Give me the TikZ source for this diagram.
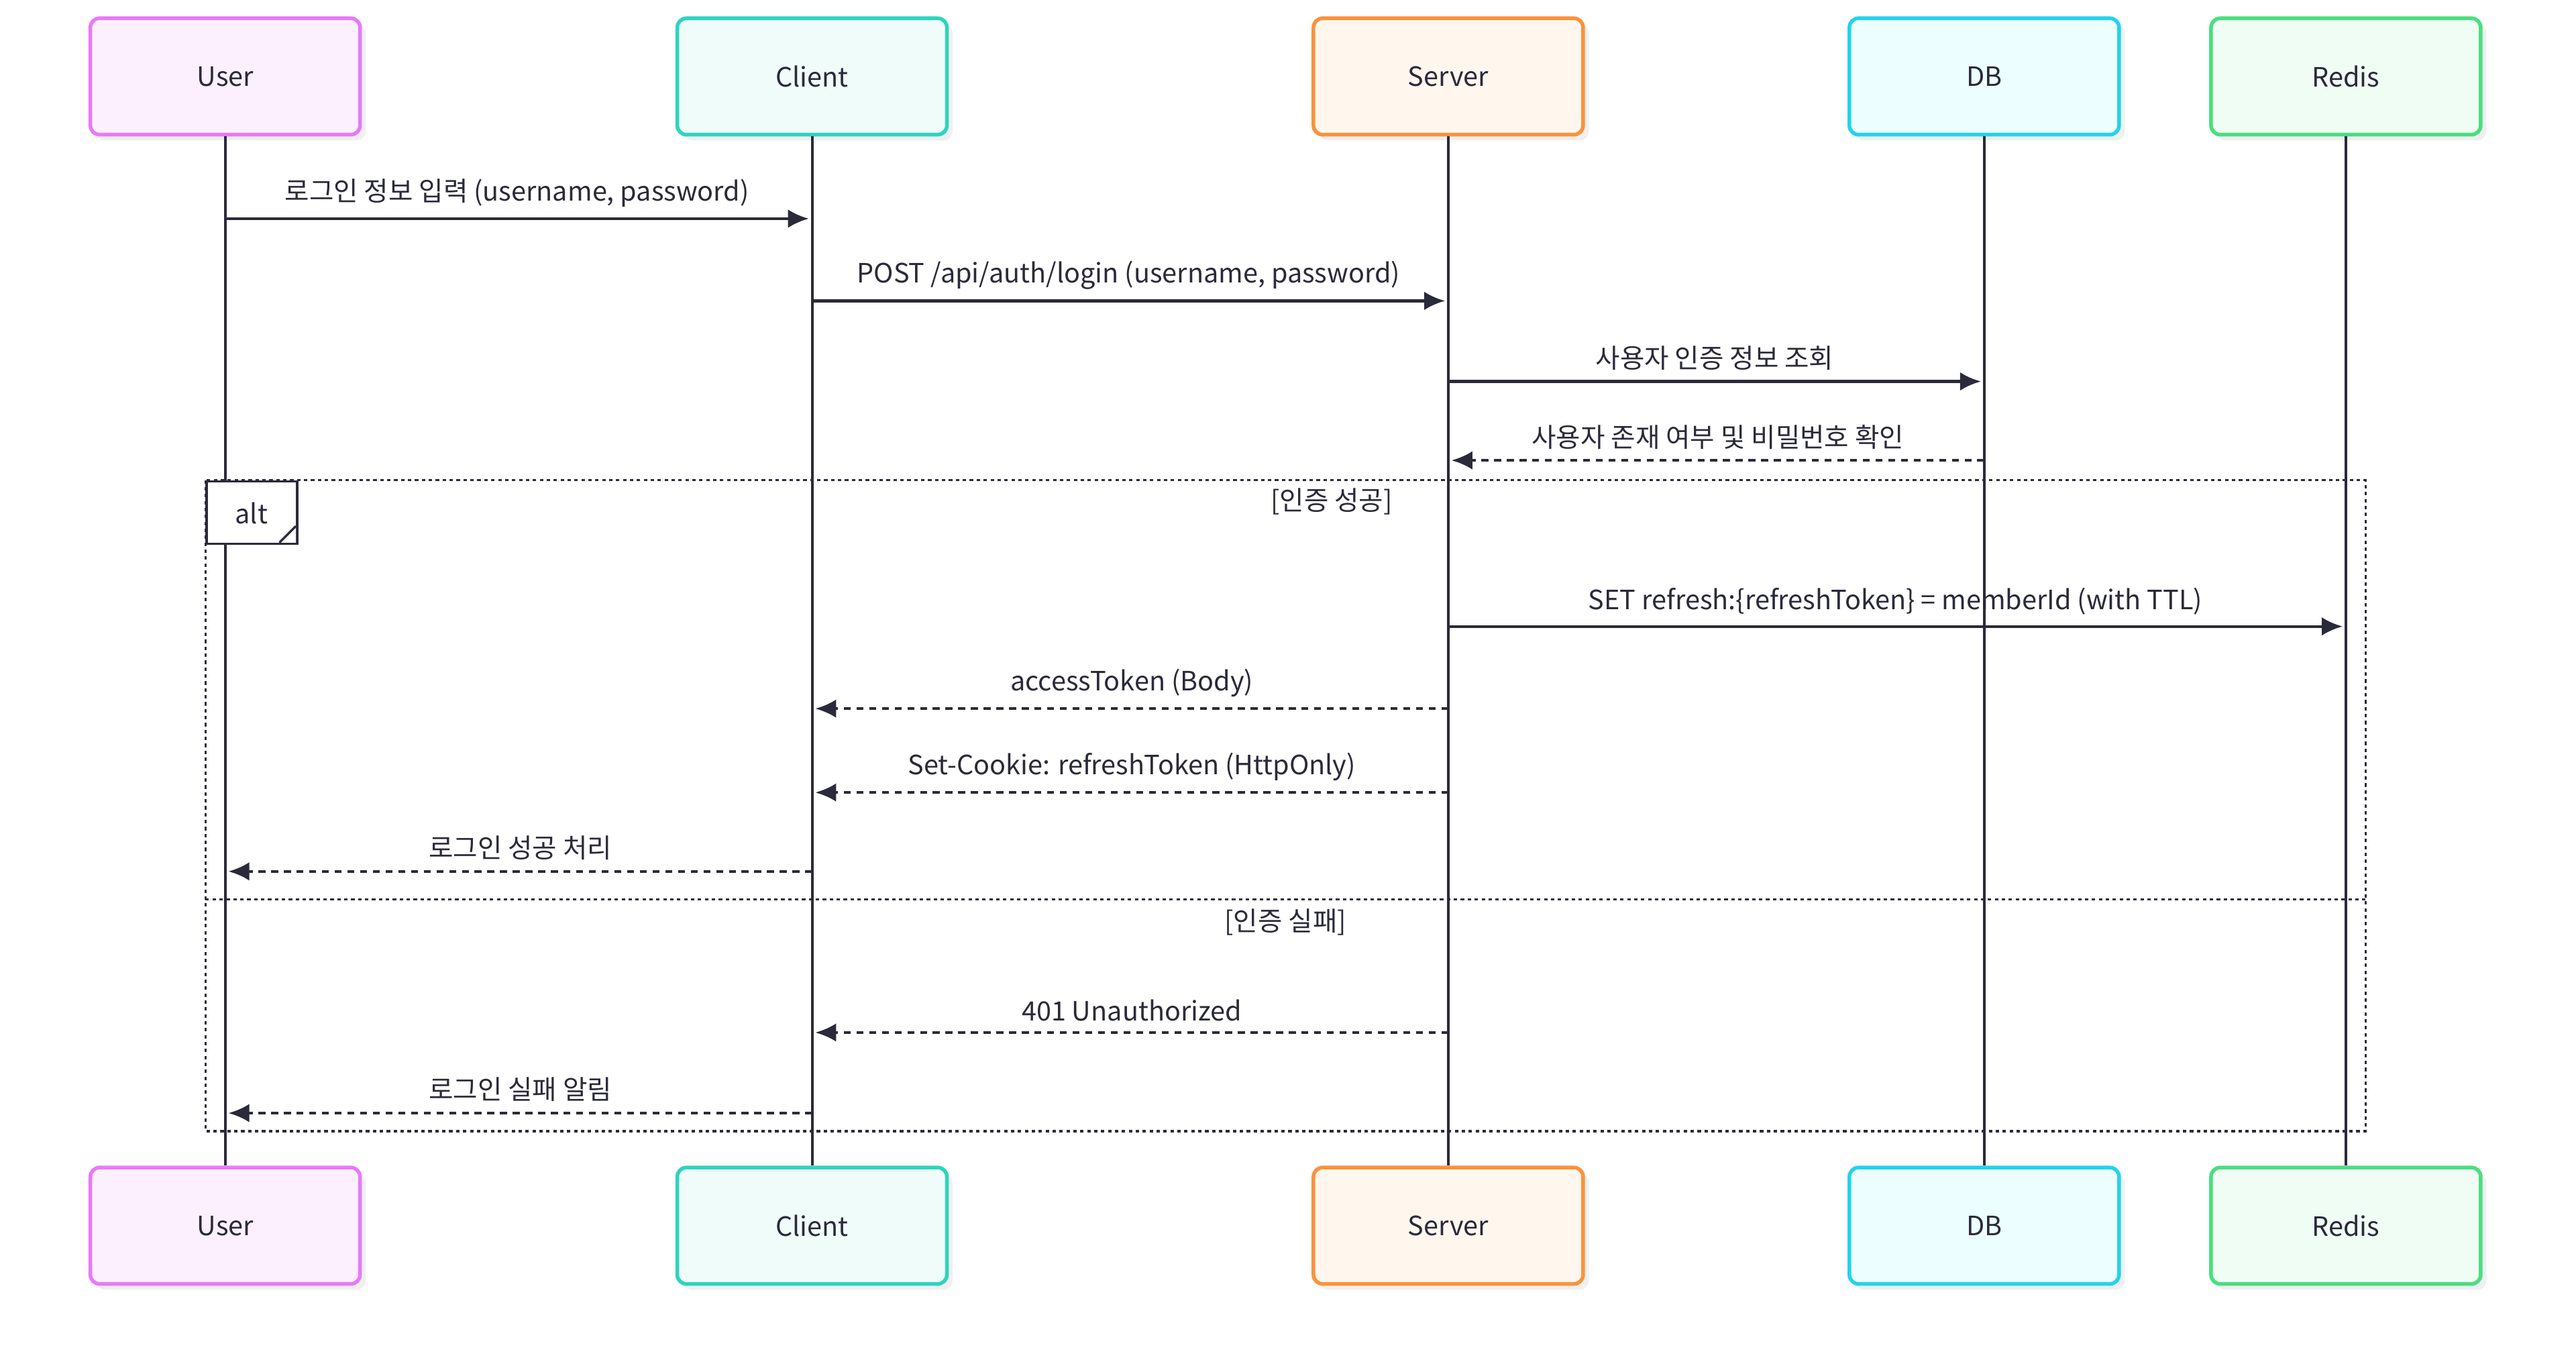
\documentclass[tikz,border=0pt]{standalone}
\usepackage{fontspec}
\setmainfont{Noto Sans CJK KR}
\usetikzlibrary{arrows.meta, positioning}
\definecolor{seqline}{RGB}{42, 42, 58}
\definecolor{userbd}{RGB}{232, 121, 249}
\definecolor{userbg}{RGB}{253, 240, 254}
\definecolor{clientbd}{RGB}{45, 212, 191}
\definecolor{clientbg}{RGB}{239, 252, 249}
\definecolor{serverbd}{RGB}{251, 146, 60}
\definecolor{serverbg}{RGB}{255, 247, 237}
\definecolor{dbbd}{RGB}{34, 211, 238}
\definecolor{dbbg}{RGB}{236, 254, 255}
\definecolor{redisbd}{RGB}{74, 222, 128}
\definecolor{redisbg}{RGB}{240, 253, 244}
\tikzset{
  actor/.style={draw, line width=1.6pt, rounded corners=4pt, minimum width=4.1cm, minimum height=1.77cm,
    font=\fontsize{11.5}{14}\selectfont, text=seqline,
    preaction={fill=black!6, transform canvas={xshift=2.5pt, yshift=-2.5pt}}},
  life/.style={draw=seqline, line width=1.2pt},
  msg/.style={draw=seqline, line width=1.2pt, -{Latex[length=9pt, width=8pt]}},
  reply/.style={msg, dash pattern=on 3pt off 2.5pt},
  lbl/.style={font=\fontsize{11.5}{14}\selectfont, text=seqline, above=1pt},
  frame/.style={draw=seqline, line width=1pt, dash pattern=on 1.5pt off 1.5pt}
}
\begin{document}
\begin{tikzpicture}[x=0.025cm, y=-0.025cm]
  \useasboundingbox (0,0) rectangle (1567,828);
  % actors, top and bottom
  \foreach \n/\t/\cx/\c in {user/User/137/user, client/Client/494/client, server/Server/881/server, db/DB/1207/db, redis/Redis/1427/redis} {
    \node[actor, draw=\c bd, fill=\c bg] (\n top) at (\cx,46.5) {\t};
    \node[actor, draw=\c bd, fill=\c bg] (\n bot) at (\cx,745.5) {\t};
  }
  % lifelines
  \foreach \n in {user, client, server, db, redis}
    \draw[life] (\n top) -- (\n bot);
  % alt frame
  \draw[frame] (125,292) rectangle (1439,688);
  \draw[frame] (125,547) -- (1439,547);
  \node[draw=seqline, fill=white, line width=1pt, minimum width=1.375cm, minimum height=0.95cm, anchor=north west] (alt) at (125,292) {};
  \fill[white] (180,330) -- (180,320) -- (170,330) -- cycle;
  \draw[seqline, line width=1pt] (180,320) -- (170,330);
  \node[font=\fontsize{11.5}{14}\selectfont, text=seqline] at (153,312) {alt};
  \node[font=\fontsize{11.5}{14}\selectfont, text=seqline] (okcase) at (810,305) {[인증 성공]};
  \node[font=\fontsize{11.5}{14}\selectfont, text=seqline] (failcase) at (782,561) {[인증 실패]};
  % message end points
  \coordinate (m1a) at (137,133);  \coordinate (m1b) at (492,133);
  \coordinate (m2a) at (494,183);  \coordinate (m2b) at (879,183);
  \coordinate (m3a) at (881,232);  \coordinate (m3b) at (1205,232);
  \coordinate (m4a) at (1207,280); \coordinate (m4b) at (883,280);
  \coordinate (m5a) at (881,381);  \coordinate (m5b) at (1425,381);
  \coordinate (m6a) at (881,431);  \coordinate (m6b) at (496,431);
  \coordinate (m7a) at (881,482);  \coordinate (m7b) at (496,482);
  \coordinate (m8a) at (494,530);  \coordinate (m8b) at (139,530);
  \coordinate (m9a) at (881,628);  \coordinate (m9b) at (496,628);
  \coordinate (m10a) at (494,677); \coordinate (m10b) at (139,677);
  % messages
  \draw[msg] (m1a) -- node[lbl] {로그인 정보 입력 (username, password)} (m1b);
  \draw[msg] (m2a) -- node[lbl] {POST /api/auth/login (username, password)} (m2b);
  \draw[msg] (m3a) -- node[lbl] {사용자 인증 정보 조회} (m3b);
  \draw[reply] (m4a) -- node[lbl] {사용자 존재 여부 및 비밀번호 확인} (m4b);
  \draw[msg] (m5a) -- node[lbl] {SET refresh:\{refreshToken\} = memberId (with TTL)} (m5b);
  \draw[reply] (m6a) -- node[lbl] {accessToken (Body)} (m6b);
  \draw[reply] (m7a) -- node[lbl] {Set-Cookie: refreshToken (HttpOnly)} (m7b);
  \draw[reply] (m8a) -- node[lbl] {로그인 성공 처리} (m8b);
  \draw[reply] (m9a) -- node[lbl] {401 Unauthorized} (m9b);
  \draw[reply] (m10a) -- node[lbl] {로그인 실패 알림} (m10b);
\end{tikzpicture}
\end{document}
